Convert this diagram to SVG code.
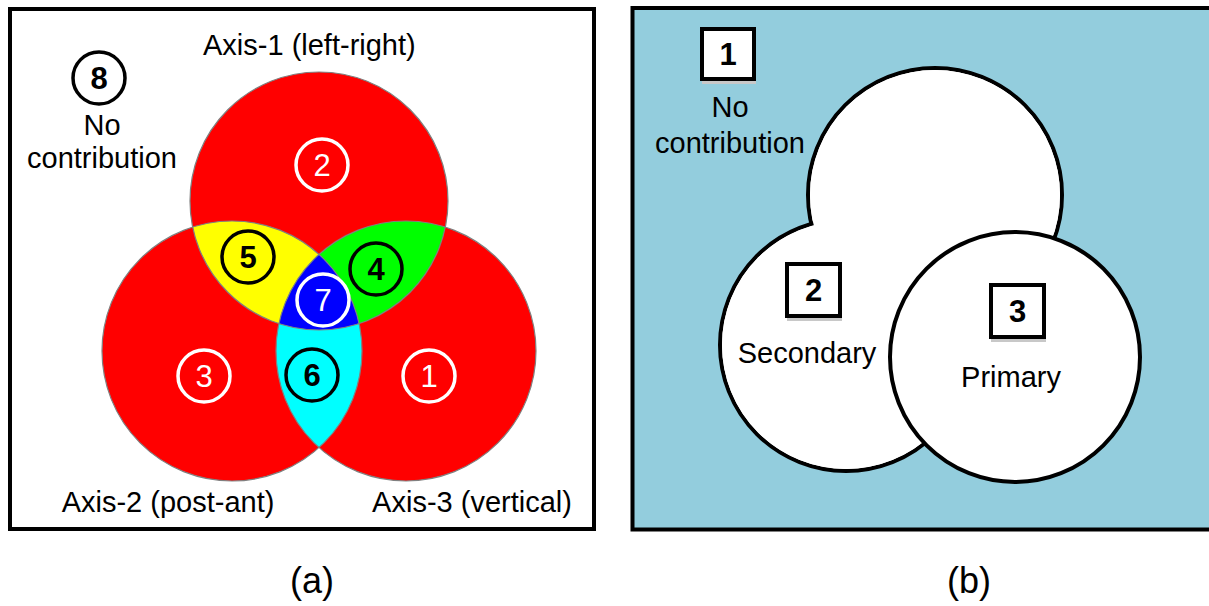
<svg xmlns="http://www.w3.org/2000/svg" width="1209" height="606" viewBox="0 0 1209 606">
  <style>
    text { font-family: "Liberation Sans", Arial, sans-serif; }
    .lbl { font-size: 29px; fill: #000; text-anchor: middle; }
    .cap { font-size: 36px; fill: #000; text-anchor: middle; }
    .num { font-size: 31px; text-anchor: middle; }
    .numW { fill: #fff; }
    .numK { fill: #000; font-weight: bold; }
    .ringW { fill: none; stroke: #fff; stroke-width: 3.5; }
    .ringK { fill: none; stroke: #000; stroke-width: 3.5; }
    .edge { fill: none; stroke: #808080; stroke-width: 1.2; }
    .frame { stroke: #000; stroke-width: 4; }
    .blob { fill: #fff; stroke: #000; stroke-width: 4; }
    .blobfill { fill: #fff; }
    .box { fill: #fff; stroke: #000; stroke-width: 4; }
    .shadow { fill: #c8c8c8; }
  </style>
  <defs>
    <circle id="cT" cx="319" cy="201" r="129"/>
    <circle id="cL" cx="232" cy="351" r="130"/>
    <circle id="cR" cx="406" cy="351" r="130"/>
    <clipPath id="clipT"><use href="#cT"/></clipPath>
    <clipPath id="clipL"><use href="#cL"/></clipPath>
    <clipPath id="clipR"><use href="#cR"/></clipPath>
  </defs>

  <rect width="1209" height="606" fill="#fff"/>

  <!-- (a) three-axis Venn diagram -->
  <g id="panel-a">
    <rect class="frame" x="10" y="9" width="584" height="520" fill="#fff"/>

    <g id="venn-regions">
      <use href="#cT" fill="#ff0000"/>
      <use href="#cL" fill="#ff0000"/>
      <use href="#cR" fill="#ff0000"/>
      <!-- pairwise overlaps -->
      <g clip-path="url(#clipT)"><use href="#cL" fill="#ffff00"/></g>
      <g clip-path="url(#clipT)"><use href="#cR" fill="#00ff00"/></g>
      <g clip-path="url(#clipR)"><use href="#cL" fill="#00ffff"/></g>
      <!-- triple overlap -->
      <g clip-path="url(#clipL)"><g clip-path="url(#clipR)"><use href="#cT" fill="#0000ff"/></g></g>
      <!-- outlines -->
      <use href="#cT" class="edge"/>
      <use href="#cL" class="edge"/>
      <use href="#cR" class="edge"/>
    </g>

    <g id="region-2"><circle class="ringW" cx="322" cy="165" r="26"/><text class="num numW" x="322" y="176">2</text></g>
    <g id="region-3"><circle class="ringW" cx="204" cy="376" r="26"/><text class="num numW" x="204" y="387">3</text></g>
    <g id="region-1"><circle class="ringW" cx="429" cy="376" r="26"/><text class="num numW" x="429" y="387">1</text></g>
    <g id="region-7"><circle class="ringW" cx="323" cy="300" r="26"/><text class="num numW" x="323" y="311">7</text></g>
    <g id="region-5"><circle class="ringK" cx="248" cy="257" r="26"/><text class="num numK" x="248" y="268">5</text></g>
    <g id="region-4"><circle class="ringK" cx="376" cy="269" r="26"/><text class="num numK" x="376" y="280">4</text></g>
    <g id="region-6"><circle class="ringK" cx="312" cy="375" r="26"/><text class="num numK" x="312" y="386">6</text></g>
    <g id="region-8">
      <circle class="ringK" cx="99" cy="78" r="26"/><text class="num numK" x="99" y="89">8</text>
      <text class="lbl" x="102" y="135">No</text>
      <text class="lbl" x="102" y="168">contribution</text>
    </g>

    <g id="axis-labels">
      <text class="lbl" x="203" y="55" text-anchor="start" style="text-anchor:start">Axis-1 (left-right)</text>
      <text class="lbl" x="168" y="512">Axis-2 (post-ant)</text>
      <text class="lbl" x="472" y="512">Axis-3 (vertical)</text>
    </g>
    <text class="cap" x="312" y="593">(a)</text>
  </g>

  <!-- (b) contribution levels -->
  <g id="panel-b">
    <rect class="frame" x="632.5" y="8" width="580" height="521.5" fill="#93cddd"/>

    <g id="secondary-blob">
      <circle class="blob" cx="935" cy="195" r="127"/>
      <circle class="blob" cx="846" cy="345" r="126"/>
      <circle class="blobfill" cx="935" cy="195" r="125"/>
      <circle class="blobfill" cx="846" cy="345" r="124"/>
    </g>
    <g id="primary-circle">
      <circle class="blob" cx="1015" cy="357" r="125"/>
    </g>

    <g id="level-1">
      <rect class="shadow" x="702" y="32" width="54" height="52"/>
      <rect class="box" x="702" y="29" width="52" height="50"/>
      <text class="num numK" x="728" y="65">1</text>
      <text class="lbl" x="730" y="117">No</text>
      <text class="lbl" x="730" y="153">contribution</text>
    </g>
    <g id="level-2">
      <rect class="shadow" x="787" y="267" width="55" height="54"/>
      <rect class="box" x="787" y="264" width="53" height="52"/>
      <text class="num numK" x="813.5" y="301">2</text>
      <text class="lbl" x="807" y="363">Secondary</text>
    </g>
    <g id="level-3">
      <rect class="shadow" x="991" y="288" width="55" height="54"/>
      <rect class="box" x="991" y="285" width="53" height="52"/>
      <text class="num numK" x="1017.5" y="322">3</text>
      <text class="lbl" x="1011" y="387">Primary</text>
    </g>
    <text class="cap" x="969" y="593">(b)</text>
  </g>
</svg>
